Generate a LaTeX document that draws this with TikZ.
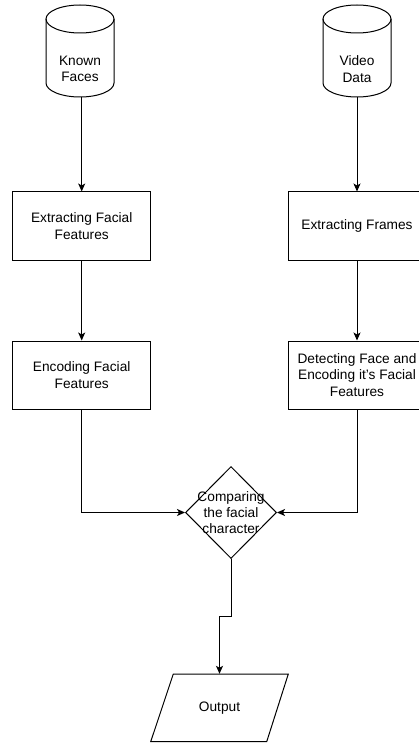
\documentclass[tikz,border=0pt]{standalone}
\usepackage{fontspec}
\setmainfont{Liberation Sans}
\usetikzlibrary{shapes.geometric,arrows.meta}
\begin{document}
\begin{tikzpicture}[x=1pt,y=-1pt,
  every node/.style={font=\fontsize{13.7pt}{16.4pt}\selectfont, align=center, inner sep=0pt},
  procbox/.style={draw, line width=1pt, minimum width=138pt, minimum height=68pt},
  ghost/.style={minimum width=#1, minimum height=92pt},
  outl/.style={draw, line width=1pt},
  arr/.style={line width=1pt, -{Stealth[length=8pt,width=7pt,inset=2pt]}}]
\useasboundingbox (0,0) rectangle (419,743);
\clip (0,0) rectangle (419,743);
% cylinders
\draw[outl] (46,19) -- (46,83) arc[start angle=180,end angle=0,x radius=34,y radius=14] -- (114,19);
\draw[outl] (80,19) ellipse[x radius=34,y radius=14];
\node[ghost=68pt] (kf) at (80,51) {};
\node (kft) at (80,69) {Known\\Faces};
\draw[outl] (323,19) -- (323,83) arc[start angle=180,end angle=0,x radius=34,y radius=14] -- (391,19);
\draw[outl] (357,19) ellipse[x radius=34,y radius=14];
\node[ghost=68pt] (vd) at (357,51) {};
\node (vdt) at (357,69) {Video\\Data};
% boxes
\node[procbox] (eff) at (81.7,226) {Extracting Facial\\Features};
\node[procbox] (enc) at (81.7,375) {Encoding Facial\\Features};
\node[procbox] (ef) at (357,226) {Extracting Frames};
\node[procbox] (det) at (357,375) {Detecting Face and\\Encoding it{\char"27}s Facial\\Features};
% diamond
\node[diamond, draw, line width=1pt, minimum width=91pt, minimum height=92pt] (dia) at (231,512.5) {};
\node (diat) at (231,512.5) {Comparing\\the facial\\character};
% parallelogram
\coordinate (p1) at (173.3,674);
\coordinate (p2) at (288.3,674);
\coordinate (p3) at (266.7,741.7);
\coordinate (p4) at (150.7,741.7);
\draw[outl] (p1) -- (p2) -- (p3) -- (p4) -- cycle;
\node[minimum width=115pt, minimum height=67.7pt] (out) at (219.5,707.85) {Output};
% connectors
\draw[arr] (81.7,97) -- (eff.north);
\draw[arr] (eff.south) -- (enc.north);
\draw[arr] (357,97) -- (ef.north);
\draw[arr] (ef.south) -- (det.north);
\draw[arr] (enc.south) |- (dia.west);
\draw[arr] (det.south) |- (dia.east);
\coordinate (j) at (231,616);
\draw[arr] (dia.south) -- (j) -| (out.north);
\end{tikzpicture}
\end{document}
